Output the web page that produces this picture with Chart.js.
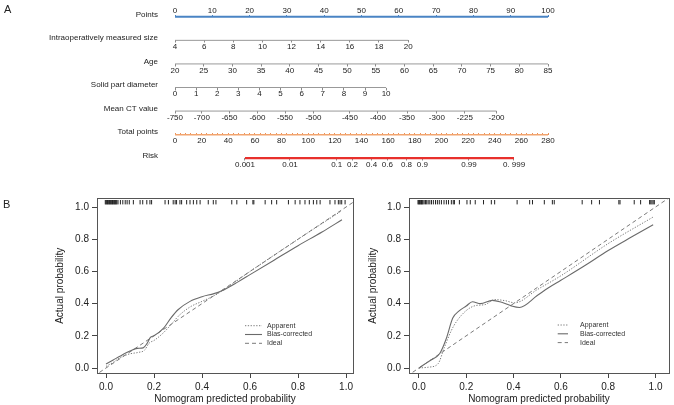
<!DOCTYPE html>
<html lang="en">
<head>
<meta charset="UTF-8">
<title>Nomogram and calibration curves</title>
<script src="https://cdn.jsdelivr.net/npm/chart.js"></script>
<style>
body { margin: 0; background: #fff; }
#wrap { position: relative; width: 674px; height: 405px; overflow: hidden; font-family: "Liberation Sans", Arial, sans-serif; }
canvas { position: absolute; }
.panel { position: absolute; font-size: 11px; line-height: 1; color: #222; }
</style>
</head>
<body>
<div id="wrap">
  <canvas id="nomo" width="674" height="180" style="left:0;top:0"></canvas>
  <canvas id="calLeft" width="360" height="215" style="left:0;top:190px"></canvas>
  <canvas id="calRight" width="314" height="215" style="left:360px;top:190px"></canvas>
  <div class="panel" style="left:4px;top:3.5px">A</div>
  <div class="panel" style="left:3px;top:198.5px">B</div>
</div>
<script>
// ---- panel A: nomogram ----
const rowNames = ['Points', 'Intraoperatively measured size', 'Age', 'Solid part diameter',
                  'Mean CT value', 'Total points', 'Risk'];
const pointsTicks = [0, 10, 20, 30, 40, 50, 60, 70, 80, 90, 100];
const sizeTicks = [4, 6, 8, 10, 12, 14, 16, 18, 20];
const sizeMaxPoints = 62.5;        // points given to size = 20
const ageTicks = [20, 25, 30, 35, 40, 45, 50, 55, 60, 65, 70, 75, 80, 85];
const solidTicks = [0, 1, 2, 3, 4, 5, 6, 7, 8, 9, 10];
const solidMaxPoints = 56.6;       // points given to diameter = 10
const ctLabels = ['-750', '-700', '-650', '-600', '-550', '-500', '-450', '-400', '-350', '-300', '-225', '-200'];
const ctPoints = [0, 7.2, 14.6, 22.1, 29.5, 37.1, 46.9, 54.4, 62.2, 70.2, 77.7, 86.2];
const totalTicks = [0, 20, 40, 60, 80, 100, 120, 140, 160, 180, 200, 220, 240, 260, 280];
const riskTicks = [0.001, 0.01, 0.1, 0.2, 0.4, 0.6, 0.8, 0.9, 0.99, 0.999];
const riskLabels = ['0.001', '0.01', '0.1', '0.2', '0.4', '0.6', '0.8', '0.9', '0.99', '0. 999'];
const riskMidPoints = 153.5;       // total points where risk = 0.5
const riskPointsPerLogit = 14.62;

// ---- panel B: calibration curves ----
const calTicks = [0, 0.2, 0.4, 0.6, 0.8, 1.0];

const leftApparentX = [0, 0.03, 0.06, 0.1, 0.135, 0.16, 0.18, 0.2, 0.24, 0.28, 0.3, 0.35, 0.4, 0.45, 0.48, 0.6, 0.8, 0.98];
const leftApparentY = [0.01, 0.035, 0.065, 0.088, 0.097, 0.11, 0.155, 0.171, 0.22, 0.285, 0.32, 0.379, 0.414, 0.449, 0.475, 0.6, 0.8, 0.975];
const leftBiasX = [0, 0.03, 0.06, 0.1, 0.13, 0.155, 0.17, 0.185, 0.2, 0.24, 0.27, 0.3, 0.35, 0.4, 0.45, 0.48, 0.55, 0.6, 0.7, 0.8, 0.9, 0.983];
const leftBiasY = [0.025, 0.05, 0.075, 0.105, 0.122, 0.125, 0.15, 0.19, 0.2, 0.248, 0.31, 0.362, 0.414, 0.443, 0.462, 0.478, 0.535, 0.58, 0.67, 0.76, 0.845, 0.921];
const leftRug = [-0.003, 0, 0.003, 0.006, 0.009, 0.012, 0.015, 0.018, 0.021, 0.024, 0.027, 0.03, 0.033, 0.036,
  0.039, 0.042, 0.045, 0.05, 0.06, 0.07, 0.08, 0.088, 0.097, 0.114, 0.142, 0.153, 0.17, 0.183, 0.19, 0.246,
  0.26, 0.28, 0.288, 0.294, 0.308, 0.315, 0.336, 0.35, 0.364, 0.378, 0.392, 0.426, 0.447, 0.458, 0.524, 0.545,
  0.586, 0.612, 0.616, 0.663, 0.69, 0.711, 0.76, 0.788, 0.808, 0.829, 0.847, 0.864, 0.878, 0.892, 0.933, 0.954,
  0.968, 0.975, 0.982, 0.996];

const rightApparentX = [0, 0.04, 0.08, 0.108, 0.136, 0.157, 0.2, 0.24, 0.28, 0.32, 0.365, 0.405, 0.5, 0.6, 0.8, 0.99];
const rightApparentY = [0, 0.005, 0.025, 0.13, 0.23, 0.285, 0.357, 0.388, 0.394, 0.425, 0.418, 0.405, 0.487, 0.573, 0.773, 0.938];
const rightBiasX = [0, 0.02, 0.046, 0.088, 0.115, 0.143, 0.17, 0.2, 0.226, 0.26, 0.31, 0.35, 0.39, 0.425, 0.5, 0.546, 0.6, 0.7, 0.8, 0.9, 0.99];
const rightBiasY = [0, 0.02, 0.045, 0.09, 0.18, 0.31, 0.355, 0.385, 0.412, 0.4, 0.42, 0.408, 0.386, 0.376, 0.45, 0.497, 0.545, 0.635, 0.73, 0.815, 0.89];
const rightRug = [-0.004, -0.001, 0.002, 0.005, 0.008, 0.011, 0.014, 0.017, 0.022, 0.028, 0.033, 0.039, 0.046,
  0.053, 0.061, 0.07, 0.078, 0.086, 0.095, 0.106, 0.116, 0.125, 0.137, 0.145, 0.15, 0.171, 0.203, 0.217, 0.238,
  0.273, 0.306, 0.32, 0.415, 0.468, 0.48, 0.53, 0.564, 0.572, 0.69, 0.73, 0.763, 0.845, 0.85, 0.91, 0.937,
  0.975, 0.98, 0.985, 0.99, 0.995];
const rugLevel = 1.03;
const idealEnds = [-0.1, 1.1];

Chart.defaults.font.family = '"Liberation Sans", Arial, sans-serif';
Chart.defaults.color = '#222';

const logit = p => Math.log(p / (1 - p));
const nomoFont = { size: 8 };

function rowAxis(row, o) {
  return {
    type: 'linear', axis: 'x', position: { y: row },
    min: o.min, max: o.max,
    afterBuildTicks: s => { s.ticks = o.ticks.map(v => ({ value: v })); },
    afterFit: s => { s.paddingLeft = 0; s.paddingRight = 0; },
    border: { display: false },
    grid: { display: true, drawOnChartArea: false, drawTicks: true, tickLength: o.tick,
            tickColor: o.tickColor || '#8a8a8a', tickWidth: 1 },
    ticks: { autoSkip: false, maxRotation: 0, minRotation: 0, padding: o.pad,
             color: '#222', font: nomoFont, callback: o.label }
  };
}

function rowLine(axisId, row, x0, x1, color, width) {
  return { data: [{ x: x0, y: row }, { x: x1, y: row }], xAxisID: axisId, yAxisID: 'y',
           showLine: true, borderColor: color, borderWidth: width, pointRadius: 0, clip: false };
}

const totalMinor = [];
for (let v = 0; v <= 280; v += 4) totalMinor.push(v);

new Chart(document.getElementById('nomo'), {
  type: 'scatter',
  data: {
    datasets: [
      rowLine('xPts', 0, pointsTicks[0], pointsTicks[pointsTicks.length - 1], '#4a84c4', 2),
      rowLine('xSize', 1, sizeTicks[0], sizeTicks[sizeTicks.length - 1], '#999', 1),
      rowLine('xAge', 2, ageTicks[0], ageTicks[ageTicks.length - 1], '#999', 1),
      rowLine('xSolid', 3, solidTicks[0], solidTicks[solidTicks.length - 1], '#999', 1),
      rowLine('xCT', 4, ctPoints[0], ctPoints[ctPoints.length - 1], '#999', 1),
      rowLine('xTotal', 5, totalTicks[0], totalTicks[totalTicks.length - 1], '#f2a46e', 1.5),
      rowLine('xRisk', 6, logit(riskTicks[0]), logit(riskTicks[riskTicks.length - 1]), '#e8302c', 2.2)
    ]
  },
  options: {
    responsive: false, animation: false, events: [],
    layout: { padding: { left: 0, right: 126, top: 5, bottom: 10 } },
    plugins: { legend: { display: false }, tooltip: { enabled: false } },
    scales: {
      y: {
        type: 'linear', position: 'left', reverse: true, min: -0.5, max: 6.5,
        afterBuildTicks: s => { s.ticks = rowNames.map((n, i) => ({ value: i - 0.1 })); },
        afterFit: s => { s.width = 175; s.paddingTop = 0; s.paddingBottom = 0; },
        grid: { display: false, drawTicks: false }, border: { display: false },
        ticks: { autoSkip: false, padding: 17, color: '#222', font: nomoFont,
                 callback: (v, i) => rowNames[i] }
      },
      xPts: rowAxis(0, { min: 0, max: 100, ticks: pointsTicks, tick: -2, pad: -8.8,
                         tickColor: '#4a84c4', label: v => String(v) }),
      xSize: rowAxis(1, { min: sizeTicks[0], max: sizeTicks[0] + (sizeTicks[sizeTicks.length - 1] - sizeTicks[0]) * 100 / sizeMaxPoints,
                          ticks: sizeTicks, tick: 2.5, pad: -0.7, label: v => String(v) }),
      xAge: rowAxis(2, { min: 20, max: 85, ticks: ageTicks, tick: 2.5, pad: -0.7, label: v => String(v) }),
      xSolid: rowAxis(3, { min: 0, max: solidTicks[solidTicks.length - 1] * 100 / solidMaxPoints,
                           ticks: solidTicks, tick: 2.5, pad: -0.7, label: v => String(v) }),
      xCT: rowAxis(4, { min: 0, max: 100, ticks: ctPoints, tick: 2.5, pad: -0.7,
                        label: (v, i) => ctLabels[i] }),
      xTotal: rowAxis(5, { min: 0, max: 280, ticks: totalMinor, tick: -2, pad: 3.5, tickColor: '#e8915a',
                           label: v => (totalTicks.includes(v) ? String(v) : '') }),
      xRisk: rowAxis(6, { min: -riskMidPoints / riskPointsPerLogit, max: (280 - riskMidPoints) / riskPointsPerLogit,
                          ticks: riskTicks.map(logit), tick: 2.5, pad: -0.7, label: (v, i) => riskLabels[i] })
    }
  }
});

// legend drawn inside the plot region, R style
const insideLegend = {
  id: 'insideLegend',
  afterDatasetsDraw(chart, args, opts) {
    const ctx = chart.ctx;
    ctx.save();
    ctx.font = '7px "Liberation Sans", Arial, sans-serif';
    ctx.textBaseline = 'middle';
    ctx.fillStyle = '#333';
    opts.items.forEach((name, i) => {
      const ds = chart.data.datasets.find(d => d.label === name);
      const y = opts.y + i * opts.rowH;
      ctx.strokeStyle = ds.borderColor;
      ctx.lineWidth = ds.borderWidth;
      ctx.setLineDash(ds.borderDash || []);
      ctx.beginPath();
      ctx.moveTo(opts.x, y);
      ctx.lineTo(opts.x + opts.len, y);
      ctx.stroke();
      ctx.setLineDash([]);
      ctx.fillText(name, opts.x + opts.len + opts.gap, y);
    });
    ctx.restore();
  }
};

const zip = (xs, ys) => xs.map((x, i) => ({ x: x, y: ys[i] }));

function calChart(id, c) {
  const tickFont = { size: 10 };
  return new Chart(document.getElementById(id), {
    type: 'scatter',
    data: {
      datasets: [
        { label: 'Apparent', data: zip(c.appX, c.appY), showLine: true, borderColor: '#7a7a7a',
          borderWidth: 1, borderDash: [1.3, 1.5], pointRadius: 0, cubicInterpolationMode: 'monotone',
          xAxisID: 'x', yAxisID: 'y' },
        { label: 'Bias-corrected', data: zip(c.biasX, c.biasY), showLine: true, borderColor: '#6a6a6a',
          borderWidth: 1.1, pointRadius: 0, cubicInterpolationMode: 'monotone', xAxisID: 'x', yAxisID: 'y' },
        { label: 'Ideal', data: zip(idealEnds, idealEnds), showLine: true, borderColor: '#7a7a7a',
          borderWidth: 1, borderDash: [4, 3], pointRadius: 0, xAxisID: 'x', yAxisID: 'y' },
        { label: 'rug', data: c.rug.map(v => ({ x: v, y: rugLevel })), showLine: false,
          pointStyle: 'line', rotation: 90, pointRadius: 2.2, borderColor: '#222', borderWidth: 1,
          xAxisID: 'x', yAxisID: 'y' }
      ]
    },
    options: {
      responsive: false, animation: false, events: [],
      layout: { padding: { left: c.padLeft, right: c.padRight, top: 8.5, bottom: 0 } },
      plugins: {
        legend: { display: false }, tooltip: { enabled: false },
        insideLegend: c.legend
      },
      scales: {
        x: {
          type: 'linear', position: 'bottom', min: c.xMin, max: c.xMax,
          afterBuildTicks: s => { s.ticks = calTicks.map(v => ({ value: v })); },
          afterFit: s => { s.height = 32; s.paddingLeft = 0; s.paddingRight = 0; },
          grid: { drawOnChartArea: false, tickLength: 5, tickColor: '#444', color: '#444' },
          border: { display: true, color: '#555', width: 1 },
          ticks: { autoSkip: false, maxRotation: 0, padding: 3, font: tickFont, color: '#222',
                   callback: v => v.toFixed(1) },
          title: { display: true, text: 'Nomogram predicted probability', font: { size: 10 },
                   color: '#222', padding: { top: 0, bottom: 0 } }
        },
        y: {
          type: 'linear', position: 'left', min: -0.031, max: 1.053,
          afterBuildTicks: s => { s.ticks = calTicks.map(v => ({ value: v })); },
          afterFit: s => { s.width = c.yWidth; s.paddingTop = 0; s.paddingBottom = 0; },
          grid: { drawOnChartArea: false, tickLength: 5, tickColor: '#444', color: '#444' },
          border: { display: true, color: '#555', width: 1 },
          ticks: { autoSkip: false, padding: 3, font: tickFont, color: '#222',
                   callback: v => v.toFixed(1) },
          title: { display: true, text: 'Actual probability', font: { size: 10 },
                   color: '#222', padding: { top: 2, bottom: 0 } }
        },
        xTop: {
          type: 'linear', axis: 'x', position: 'top', min: 0, max: 1,
          afterFit: s => { s.height = 0; s.paddingLeft = 0; s.paddingRight = 0; },
          ticks: { display: false }, grid: { display: false, drawTicks: false },
          border: { display: true, color: '#555', width: 1 }
        },
        yRight: {
          type: 'linear', axis: 'y', position: 'right', min: 0, max: 1,
          afterFit: s => { s.width = 0; s.paddingTop = 0; s.paddingBottom = 0; },
          ticks: { display: false }, grid: { display: false, drawTicks: false },
          border: { display: true, color: '#555', width: 1 }
        }
      }
    },
    plugins: [insideLegend]
  });
}

calChart('calLeft', {
  appX: leftApparentX, appY: leftApparentY, biasX: leftBiasX, biasY: leftBiasY, rug: leftRug,
  xMin: -0.0375, xMax: 1.029, padLeft: 52, padRight: 7, yWidth: 45,
  legend: { items: ['Apparent', 'Bias-corrected', 'Ideal'], x: 245, y: 135.7, rowH: 8.8, len: 17, gap: 5 }
});

calChart('calRight', {
  appX: rightApparentX, appY: rightApparentY, biasX: rightBiasX, biasY: rightBiasY, rug: rightRug,
  xMin: -0.042, xMax: 1.057, padLeft: 5, padRight: 2, yWidth: 44,
  legend: { items: ['Apparent', 'Bias-corrected', 'Ideal'], x: 197.7, y: 135, rowH: 8.8, len: 10.3, gap: 12 }
});
</script>
</body>
</html>
